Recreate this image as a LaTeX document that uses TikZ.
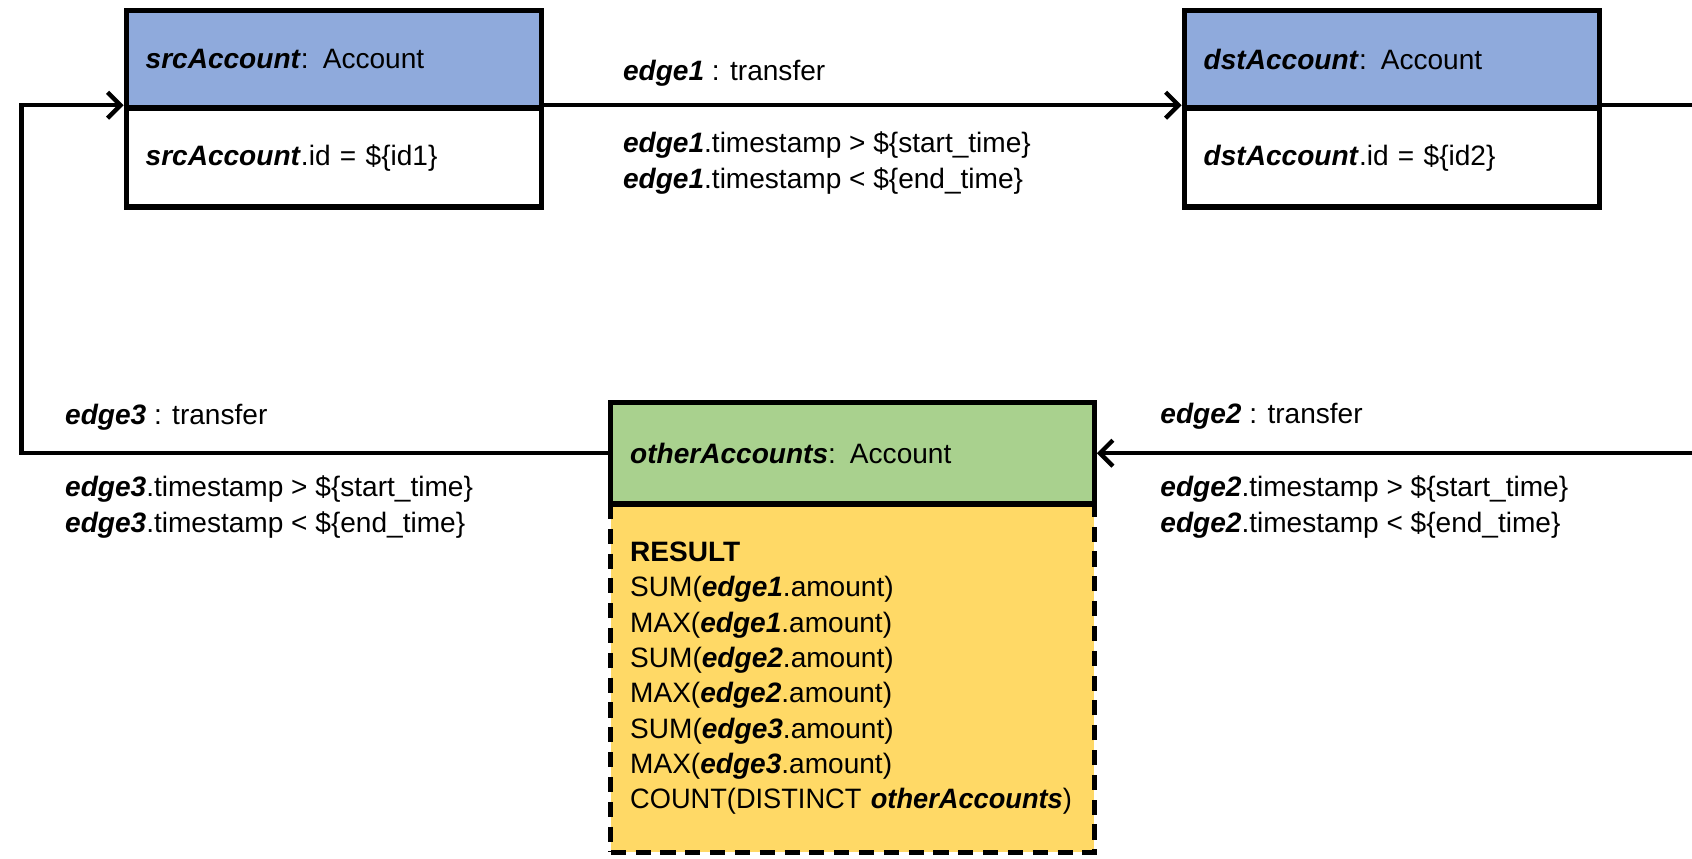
\documentclass[tikz,border=0pt]{standalone}
\usepackage{fontspec}
\setmainfont{Liberation Sans}
\usetikzlibrary{arrows.meta}
\definecolor{hdblue}{HTML}{8FAADC}
\definecolor{hdgreen}{HTML}{A9D18E}
\definecolor{resyellow}{HTML}{FFD966}
\newcommand{\bi}[1]{\textbf{\textit{#1}}}
\hyphenpenalty=10000
\exhyphenpenalty=10000
\begin{document}
\begin{tikzpicture}[x=0.5pt,y=-0.5pt,
  txt/.style={font=\fontsize{13}{16.4}\selectfont},
  box/.style={txt, draw, line width=2.5pt, inner xsep=9pt, inner ysep=0pt, align=left, anchor=center},
  acct/.style={box, minimum width=192.5pt, text width=174.5pt},
  other/.style={box, minimum width=223pt, text width=206pt},
  lbl/.style={txt, anchor=west, inner sep=0pt, align=left},
  arr/.style={line width=2pt, -{Straight Barb[length=6pt,width=12pt,line width=2pt]}},
  plain/.style={line width=2pt}
]
\useasboundingbox (0,0) rectangle (1568,796);

% account boxes
\node[acct, fill=hdblue, minimum height=45pt] (srcHead) at (309.5,55) {\bi{srcAccount}: Account};
\node[acct, fill=white, minimum height=46pt] (srcBody) at (309.5,146) {\bi{srcAccount}.id = \$\{id1\}};
\node[acct, fill=hdblue, minimum height=45pt] (dstHead) at (1290,55) {\bi{dstAccount}: Account};
\node[acct, fill=white, minimum height=46pt] (dstBody) at (1290,146) {\bi{dstAccount}.id = \$\{id2\}};

% result box and other accounts
\node[other, fill=resyellow, dash pattern=on 7pt off 4.5pt, minimum height=161.5pt] (result) at (790,628.5)
  {\textbf{RESULT}\\
   SUM(\bi{edge1}.amount)\\
   MAX(\bi{edge1}.amount)\\
   SUM(\bi{edge2}.amount)\\
   MAX(\bi{edge2}.amount)\\
   SUM(\bi{edge3}.amount)\\
   MAX(\bi{edge3}.amount)\\
   {\addfontfeatures{FakeStretch=0.97}COUNT(DISTINCT \bi{otherAccounts})}};
\node[other, fill=hdgreen, minimum height=47pt] (otherHead) at (790,420) {\bi{otherAccounts}: Account};

% coordinates for free ends
\coordinate (rside) at (1568,0);
\coordinate (lside) at (20,0);

% connectors
\draw[arr] (srcBody.north east) -- (dstBody.north west);
\draw[plain] (dstBody.north east) -- (dstBody.north east -| rside);
\draw[arr] (otherHead.east -| rside) -- (otherHead.east);
\draw[arr] (otherHead.west) -- (otherHead.west -| lside) -- (lside |- srcBody.north west) -- (srcBody.north west);

% labels
\node[lbl] (e1name) at (577,68) {\bi{edge1} : transfer};
\node[lbl] (e1cond) at (577,151) {\bi{edge1}.timestamp > \$\{start\_time\}\\ \bi{edge1}.timestamp < \$\{end\_time\}};
\node[lbl] (e3name) at (60,387) {\bi{edge3} : transfer};
\node[lbl] (e3cond) at (60,470) {\bi{edge3}.timestamp > \$\{start\_time\}\\ \bi{edge3}.timestamp < \$\{end\_time\}};
\node[lbl] (e2name) at (1075,386) {\bi{edge2} : transfer};
\node[lbl] (e2cond) at (1075,470) {\bi{edge2}.timestamp > \$\{start\_time\}\\ \bi{edge2}.timestamp < \$\{end\_time\}};
\end{tikzpicture}
\end{document}
